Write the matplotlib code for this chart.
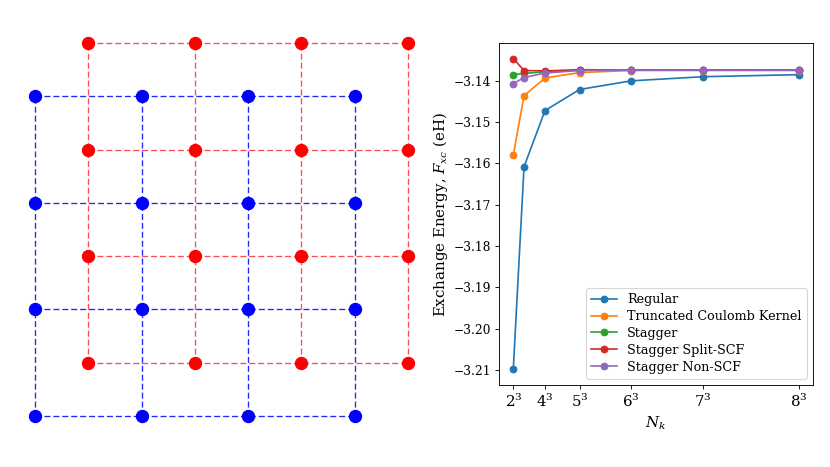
import matplotlib
matplotlib.use("Agg")
import matplotlib.pyplot as plt
import numpy as np

# lattice of the two k-point grids (regular and staggered)
grid_n = 4
regular_offset = 0.0
stagger_offset = 0.5

# convergence data
nk = [8, 27, 64, 125, 216, 343, 512]
nk_ticks = [8, 64, 125, 216, 343, 512]
nk_ticklabels = ["$2^3$", "$4^3$", "$5^3$", "$6^3$", "$7^3$", "$8^3$"]

regular = [-3.2099, -3.1608, -3.1472, -3.1421, -3.1400, -3.1390, -3.1385]
truncated = [-3.1580, -3.1436, -3.1393, -3.1380, -3.1375, -3.1375, -3.1375]
stagger = [-3.1385, -3.1382, -3.1378, -3.1374, -3.1374, -3.1374, -3.1374]
stagger_split = [-3.1346, -3.1375, -3.1376, -3.1373, -3.1374, -3.1374, -3.1374]
stagger_nonscf = [-3.1407, -3.1392, -3.1381, -3.1375, -3.1374, -3.1374, -3.1374]

series = [
    ("Regular", regular),
    ("Truncated Coulomb Kernel", truncated),
    ("Stagger", stagger),
    ("Stagger Split-SCF", stagger_split),
    ("Stagger Non-SCF", stagger_nonscf),
]

plt.rcParams["font.family"] = ["DejaVu Serif"]
plt.rcParams["mathtext.fontset"] = "dejavuserif"

fig = plt.figure(figsize=(830 / 80, 467 / 80), dpi=80)

# left: grid picture
ax1 = fig.add_axes([3 / 830, 19 / 467, 437 / 830, 437 / 467])
dash = (0, (4.5, 2.2))
for offset, color, alpha in [(regular_offset, "blue", 0.85), (stagger_offset, "red", 0.7)]:
    pts = np.arange(grid_n) + offset
    for p in pts:
        ax1.plot([pts[0], pts[-1]], [p, p], linestyle=dash, color=color, lw=1.2, alpha=alpha, zorder=1)
        ax1.plot([p, p], [pts[0], pts[-1]], linestyle=dash, color=color, lw=1.2, alpha=alpha, zorder=1)
    xx, yy = np.meshgrid(pts, pts)
    ax1.plot(xx.ravel(), yy.ravel(), "o", color=color, markersize=11, zorder=3)
ax1.set_xlim(-0.3, 3.8)
ax1.set_ylim(-0.3, 3.8)
ax1.axis("off")

# right: convergence plot
ax2 = fig.add_axes([499 / 830, 82 / 467, 314 / 830, 342 / 467])
for label, vals in series:
    ax2.plot(nk, vals, "o-", label=label)
ax2.set_xticks(nk_ticks)
ax2.set_xticklabels(nk_ticklabels)
ax2.tick_params(axis="y", labelsize=11)
ax2.tick_params(axis="x", labelsize=13.5)
ax2.set_xlabel("$N_k$", fontsize=13.5)
ax2.set_ylabel("Exchange Energy, $F_{xc}$ (eH)", fontsize=13.5, labelpad=3)
ax2.legend(loc="lower right", fontsize=11.5, labelspacing=0.3)

plt.savefig("out.png", dpi=80)
